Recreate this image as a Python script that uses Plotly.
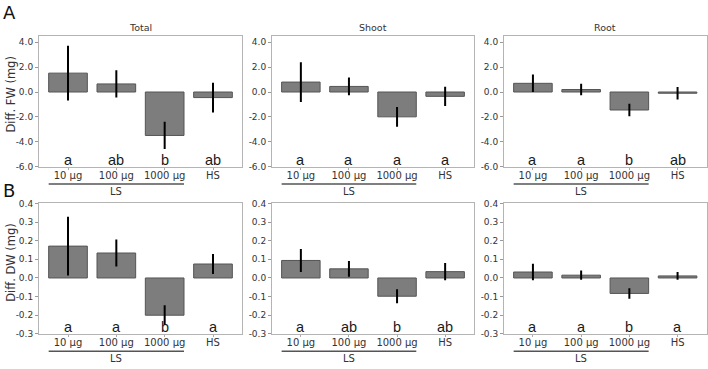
import plotly.graph_objects as go
from plotly.subplots import make_subplots

# ---------------- data ----------------
categories = ["10 µg", "100 µg", "1000 µg", "HS"]
panel_titles = ["Total", "Shoot", "Root"]

fw_total = [1.52, 0.65, -3.50, -0.45]
fw_total_err = [2.20, 1.10, 1.10, 1.20]
fw_shoot = [0.80, 0.45, -2.00, -0.35]
fw_shoot_err = [1.60, 0.72, 0.80, 0.78]
fw_root = [0.70, 0.20, -1.45, -0.10]
fw_root_err = [0.70, 0.47, 0.50, 0.50]

dw_total = [0.171, 0.134, -0.200, 0.075]
dw_total_err = [0.158, 0.072, 0.053, 0.054]
dw_shoot = [0.094, 0.049, -0.098, 0.034]
dw_shoot_err = [0.062, 0.042, 0.038, 0.046]
dw_root = [0.032, 0.015, -0.083, 0.011]
dw_root_err = [0.044, 0.025, 0.028, 0.021]

fw_letters_total = ["a", "ab", "b", "ab"]
fw_letters_shoot = ["a", "a", "a", "a"]
fw_letters_root = ["a", "a", "b", "ab"]
dw_letters_total = ["a", "a", "b", "a"]
dw_letters_shoot = ["a", "ab", "b", "ab"]
dw_letters_root = ["a", "a", "b", "a"]

fw_ticks = [-6.0, -4.0, -2.0, 0.0, 2.0, 4.0]
dw_ticks = [-0.3, -0.2, -0.1, 0.0, 0.1, 0.2, 0.3, 0.4]
ls_group = ["10 µg", "100 µg", "1000 µg"]

# ---------------- layout geometry ----------------
W, H = 708, 369
x_px = [(39, 242), (272, 474), (504, 706.5)]
y_px = [(32, 166), (204, 338)]
tag_y_px = [8, 191]
ylabel_y_px = [92, 265]

rows = [
    dict(vals=[fw_total, fw_shoot, fw_root],
         errs=[fw_total_err, fw_shoot_err, fw_root_err],
         letters=[fw_letters_total, fw_letters_shoot, fw_letters_root],
         ticks=fw_ticks, rng=[-6.0, 4.5], ylabel="Diff. FW (mg)", tag="A"),
    dict(vals=[dw_total, dw_shoot, dw_root],
         errs=[dw_total_err, dw_shoot_err, dw_root_err],
         letters=[dw_letters_total, dw_letters_shoot, dw_letters_root],
         ticks=dw_ticks, rng=[-0.3, 0.4], ylabel="Diff. DW (mg)", tag="B"),
]

fig = make_subplots(rows=2, cols=3)

BAR_FILL = "#7d7d7d"
BAR_EDGE = "#555555"
TICK_COL = "#333333"
SPINE = "#b4b4b4"
YTICK_FONT = dict(family="DejaVu Sans", size=9, color=TICK_COL)
XTICK_FONT = dict(family="DejaVu Sans", size=10, color=TICK_COL)
LETTER_FONT = dict(family="Liberation Sans, Arial", size=14.5, color="#1a1a1a")

xpos = list(range(len(categories)))
ls_idx = [categories.index(c) for c in ls_group]

annotations = []
shapes = []
for r, row in enumerate(rows):
    for c in range(3):
        n = r * 3 + c + 1
        xa = "x" if n == 1 else f"x{n}"
        ya = "y" if n == 1 else f"y{n}"
        fig.add_trace(
            go.Bar(
                x=xpos, y=row["vals"][c], width=0.8,
                marker=dict(color=BAR_FILL, line=dict(color=BAR_EDGE, width=1)),
                error_y=dict(type="data", array=row["errs"][c], visible=True,
                             color="black", thickness=2, width=0),
                showlegend=False, hoverinfo="skip",
            ),
            row=r + 1, col=c + 1,
        )
        x0, x1 = x_px[c]
        y0, y1 = y_px[r]
        fig.update_xaxes(
            domain=[x0 / W, x1 / W], range=[-0.6, 3.6],
            tickvals=xpos, ticktext=categories,
            ticks="outside", ticklen=2, tickcolor="#aaaaaa",
            tickfont=XTICK_FONT, showgrid=False, zeroline=False,
            showline=True, mirror=True, linecolor=SPINE, linewidth=1,
            ticklabelstandoff=-3,
            row=r + 1, col=c + 1,
        )
        fig.update_yaxes(
            domain=[1 - y1 / H, 1 - y0 / H], range=row["rng"],
            tickvals=row["ticks"], ticktext=[f"{v:.1f}" for v in row["ticks"]],
            ticks="outside", ticklen=3, tickcolor="#999999",
            tickfont=YTICK_FONT, showgrid=False, zeroline=False,
            showline=True, mirror=True, linecolor=SPINE, linewidth=1,
            row=r + 1, col=c + 1,
        )
        # significance letters
        for i, lt in enumerate(row["letters"][c]):
            annotations.append(dict(
                x=xpos[i], y=0, xref=xa, yref=f"{ya} domain",
                text=lt, showarrow=False, xanchor="center", yanchor="bottom",
                yshift=-3, font=LETTER_FONT,
            ))
        # LS grouping line and label
        shapes.append(dict(
            type="line", xref=xa, yref=f"{ya} domain",
            x0=xpos[ls_idx[0]] - 0.4, x1=xpos[ls_idx[-1]] + 0.4,
            y0=-18 / (y1 - y0), y1=-18 / (y1 - y0),
            line=dict(color="#555555", width=1.5),
        ))
        annotations.append(dict(
            x=(xpos[ls_idx[0]] + xpos[ls_idx[-1]]) / 2, y=-25.5 / (y1 - y0),
            xref=xa, yref=f"{ya} domain", text="LS", showarrow=False,
            xanchor="center", yanchor="middle", font=XTICK_FONT,
        ))
        if r == 0:
            annotations.append(dict(
                x=0.5, y=1, xref=f"{xa} domain", yref=f"{ya} domain",
                text=panel_titles[c], showarrow=False, xanchor="center",
                yanchor="bottom", yshift=1,
                font=dict(family="DejaVu Sans", size=9.5, color=TICK_COL),
            ))
    # y label and panel tag
    annotations.append(dict(
        x=11 / W, y=1 - ylabel_y_px[r] / H, xref="paper", yref="paper",
        text=row["ylabel"], textangle=-90, showarrow=False,
        xanchor="center", yanchor="middle",
        font=dict(family="DejaVu Sans", size=11.5, color=TICK_COL),
    ))
    annotations.append(dict(
        x=9 / W, y=1 - tag_y_px[r] / H, xref="paper", yref="paper",
        text=row["tag"], showarrow=False, xanchor="center", yanchor="middle",
        font=dict(family="DejaVu Sans", size=18, color="#111111"),
    ))

fig.update_layout(
    width=W, height=H, margin=dict(l=0, r=0, t=0, b=0),
    paper_bgcolor="white", plot_bgcolor="white",
    annotations=annotations, shapes=shapes, bargap=0.2,
)
fig.write_html("out.html", config={"displayModeBar": False},
               post_script="document.body.style.margin='0px';")
